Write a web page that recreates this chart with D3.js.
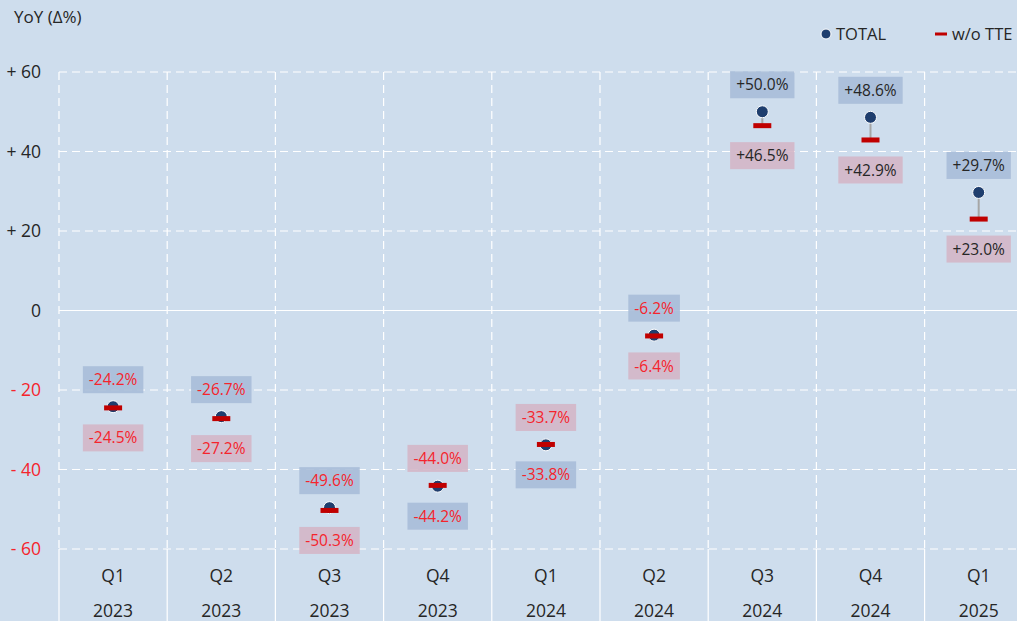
<!DOCTYPE html>
<html>
<head>
<meta charset="utf-8">
<script src="https://cdn.jsdelivr.net/npm/d3@7"></script>
<style>
	body { margin: 0; background: #cedded; }
	svg { display: block; font-family: "Open Sans", sans-serif; }
</style>
</head>
<body>
<svg id="chart" width="1017" height="621"></svg>
<script>
var quarters = ["Q1", "Q2", "Q3", "Q4", "Q1", "Q2", "Q3", "Q4", "Q1"];
var years = ["2023", "2023", "2023", "2023", "2024", "2024", "2024", "2024", "2025"];
var total = [-24.2, -26.7, -49.6, -44.2, -33.8, -6.2, 50.0, 48.6, 29.7];
var woTTE = [-24.5, -27.2, -50.3, -44.0, -33.7, -6.4, 46.5, 42.9, 23.0];
var yTicks = [-60, -40, -20, 0, 20, 40, 60];

var width = 1017,
	height = 621,
	left = 59,
	step = 108.2;

var svg = d3.select("#chart");

svg.append("rect")
	.attr("width", width)
	.attr("height", height)
	.attr("fill", "#cedded");

var x = d3.scaleBand()
	.domain(d3.range(quarters.length))
	.range([left, left + step * quarters.length]);

var y = d3.scaleLinear()
	.domain([-60, 60])
	.range([549, 72]);

// 1. grid
svg.append("g")
	.selectAll("line")
	.data(yTicks)
	.enter()
	.append("line")
	.attr("x1", left)
	.attr("x2", width)
	.attr("y1", function(d) { return y(d); })
	.attr("y2", function(d) { return y(d); })
	.attr("stroke", "#fff")
	.attr("stroke-width", 1.2)
	.attr("stroke-dasharray", function(d) { return d == 0 ? null : "8,5"; });

var bounds = d3.range(quarters.length).map(function(i) { return x(i); });

svg.append("g")
	.selectAll("line")
	.data(bounds)
	.enter()
	.append("line")
	.attr("x1", function(d) { return d; })
	.attr("x2", function(d) { return d; })
	.attr("y1", y(60))
	.attr("y2", y(-60))
	.attr("stroke", "#fff")
	.attr("stroke-width", 1.2)
	.attr("stroke-dasharray", "8,5");

svg.append("g")
	.selectAll("line")
	.data(bounds)
	.enter()
	.append("line")
	.attr("x1", function(d) { return d; })
	.attr("x2", function(d) { return d; })
	.attr("y1", y(-60))
	.attr("y2", height)
	.attr("stroke", "#fff")
	.attr("stroke-width", 1.2);

// 2. axis labels
svg.append("g")
	.selectAll("text")
	.data(yTicks)
	.enter()
	.append("text")
	.attr("x", 41)
	.attr("y", function(d) { return y(d); })
	.attr("dy", "0.36em")
	.attr("text-anchor", "end")
	.attr("font-size", 17.5)
	.attr("fill", function(d) { return d < 0 ? "#f5242c" : "#262626"; })
	.text(function(d) { return d > 0 ? "+ " + d : (d < 0 ? "- " + (-d) : "0"); });

var cx = function(i) { return x(i) + x.bandwidth() / 2; };

svg.append("g")
	.selectAll("text")
	.data(quarters)
	.enter()
	.append("text")
	.attr("x", function(d, i) { return cx(i); })
	.attr("y", 582)
	.attr("text-anchor", "middle")
	.attr("font-size", 17.5)
	.attr("fill", "#262626")
	.text(function(d) { return d; });

svg.append("g")
	.selectAll("text")
	.data(years)
	.enter()
	.append("text")
	.attr("x", function(d, i) { return cx(i); })
	.attr("y", 617)
	.attr("text-anchor", "middle")
	.attr("font-size", 17.5)
	.attr("fill", "#262626")
	.text(function(d) { return d; });

svg.append("text")
	.attr("x", 14)
	.attr("y", 23)
	.attr("font-size", 17)
	.attr("fill", "#262626")
	.text("YoY (Δ%)");

// 3. legend
svg.append("circle")
	.attr("cx", 826)
	.attr("cy", 34)
	.attr("r", 5)
	.attr("fill", "#1f3e6e")
	.attr("stroke", "#fff")
	.attr("stroke-width", 1);
svg.append("text")
	.attr("x", 836)
	.attr("y", 40)
	.attr("font-size", 16.5)
	.attr("fill", "#262626")
	.text("TOTAL");
svg.append("rect")
	.attr("x", 935)
	.attr("y", 32.5)
	.attr("width", 12)
	.attr("height", 3)
	.attr("fill", "#c00000");
svg.append("text")
	.attr("x", 952)
	.attr("y", 40)
	.attr("font-size", 16.5)
	.attr("fill", "#262626")
	.text("w/o TTE");

// 4. markers
var pts = svg.append("g");

pts.selectAll("line")
	.data(total)
	.enter()
	.append("line")
	.attr("x1", function(d, i) { return cx(i); })
	.attr("x2", function(d, i) { return cx(i); })
	.attr("y1", function(d) { return y(d); })
	.attr("y2", function(d, i) { return y(woTTE[i]); })
	.attr("stroke", "#a6a6a6")
	.attr("stroke-width", 2);

pts.selectAll("circle")
	.data(total)
	.enter()
	.append("circle")
	.attr("cx", function(d, i) { return cx(i); })
	.attr("cy", function(d) { return y(d); })
	.attr("r", 6)
	.attr("fill", "#1f3e6e")
	.attr("stroke", "#fff")
	.attr("stroke-width", 1);

pts.selectAll("rect")
	.data(woTTE)
	.enter()
	.append("rect")
	.attr("x", function(d, i) { return cx(i) - 9; })
	.attr("y", function(d) { return y(d) - 2.5; })
	.attr("width", 18)
	.attr("height", 5)
	.attr("fill", "#c00000");

// 5. value labels (higher value above, lower below)
function fmt(v) { return (v > 0 ? "+" : "") + v.toFixed(1) + "%"; }

var labels = [];
total.forEach(function(t, i) {
	var w = woTTE[i];
	var totUp = t >= w;
	labels.push({ i: i, v: t, kind: "total", up: totUp });
	labels.push({ i: i, v: w, kind: "wo", up: !totUp });
});

var lab = svg.append("g")
	.selectAll("g")
	.data(labels)
	.enter()
	.append("g")
	.attr("transform", function(d) {
		var yy = d.up ? y(d.v) - 27 : y(d.v) + 30;
		return "translate(" + cx(d.i) + "," + yy + ")";
	});

lab.append("rect")
	.attr("fill", function(d) { return d.kind == "total" ? "#a9bcd8" : "#d4b6c7"; })
	.attr("fill-opacity", 0.9);

lab.append("text")
	.attr("text-anchor", "middle")
	.attr("dy", "0.36em")
	.attr("font-size", 15.5)
	.attr("fill", function(d) { return d.v < 0 ? "#f5242c" : "#262626"; })
	.text(function(d) { return fmt(d.v); });

lab.each(function() {
	var g = d3.select(this);
	var tw = g.select("text").node().getComputedTextLength();
	g.select("rect")
		.attr("x", -tw / 2 - 6)
		.attr("y", -13.5)
		.attr("width", tw + 12)
		.attr("height", 27);
});
</script>
</body>
</html>
